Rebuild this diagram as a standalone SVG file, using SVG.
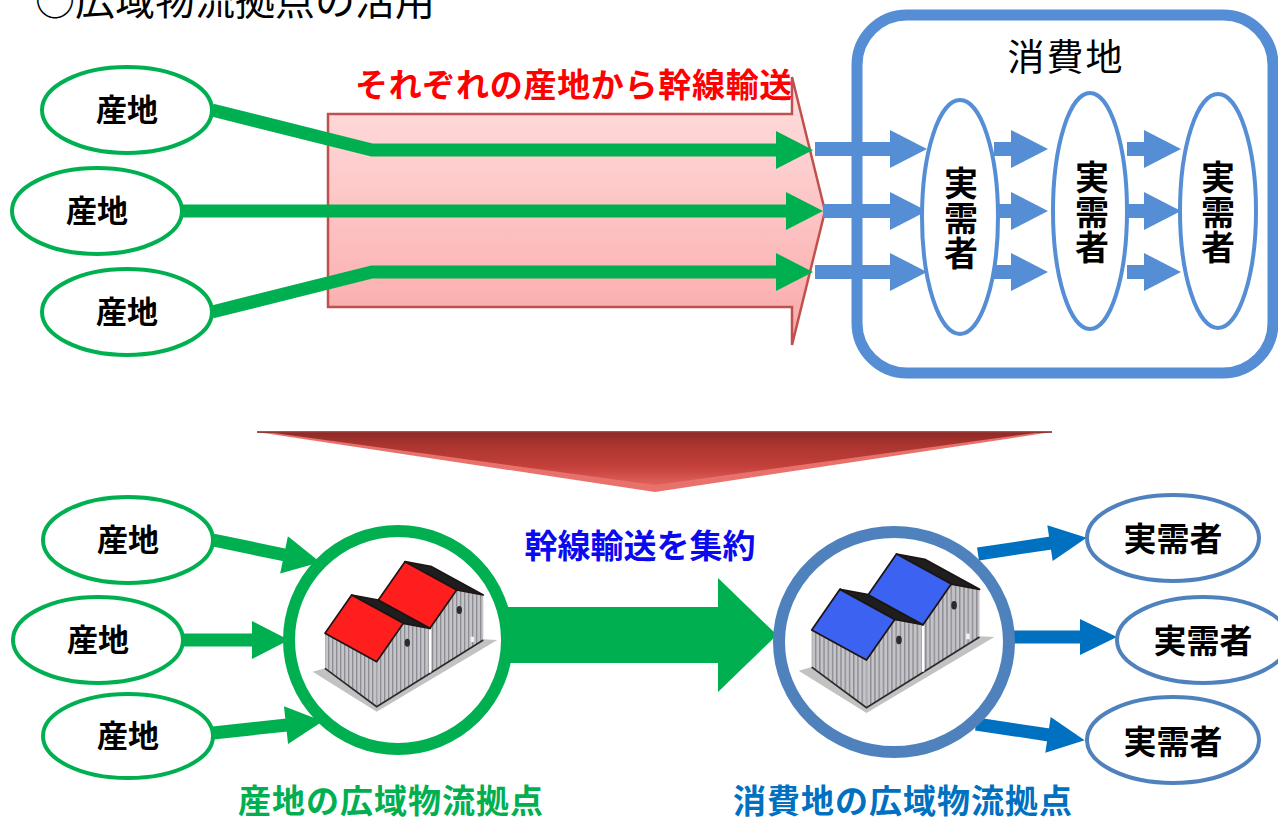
<svg xmlns="http://www.w3.org/2000/svg" width="1278" height="819" viewBox="0 0 1278 819">
  <defs>
    <style>
      text { font-family: "Noto Sans CJK JP", "Noto Sans CJK SC", sans-serif; }
      .lbl { font-weight: bold; font-size: 31px; fill: #000; text-anchor: middle; }
      .lblv { font-weight: bold; font-size: 34px; fill: #000; text-anchor: middle; writing-mode: vertical-rl; letter-spacing: 1px; }
      .lbl2 { font-weight: bold; font-size: 33px; fill: #000; text-anchor: middle; }
      .src { fill: #fff; stroke: #00B050; stroke-width: 4; }
      .dst { fill: #fff; stroke: #558ED5; stroke-width: 4; }
      .dst2 { fill: #fff; stroke: #4F81BD; stroke-width: 4; }
      .gl { fill: none; stroke: #00B050; stroke-width: 13; stroke-linejoin: miter; }
      .bl { fill: none; stroke: #558ED5; stroke-width: 14; }
      .bl2 { fill: none; stroke: #0070C0; stroke-width: 13; }
      .caption { font-weight: bold; font-size: 33px; text-anchor: middle; letter-spacing: 1px; }
    </style>

    <linearGradient id="pinkFill" x1="0" y1="0" x2="0" y2="1">
      <stop offset="0" stop-color="#FFE0E0"/>
      <stop offset="1" stop-color="#FBA8A8"/>
    </linearGradient>
    <linearGradient id="redDown" x1="0" y1="0" x2="0" y2="1">
      <stop offset="0" stop-color="#8E2A27"/>
      <stop offset="0.2" stop-color="#A9342F"/>
      <stop offset="0.65" stop-color="#C4403B"/>
      <stop offset="1" stop-color="#E0625D"/>
    </linearGradient>

    <pattern id="stripes" patternUnits="userSpaceOnUse" width="12" height="20">
      <rect width="12" height="20" fill="#C4C4C8"/>
      <rect width="4" height="20" fill="#8C8C92"/>
    </pattern>

    <marker id="hg" markerUnits="userSpaceOnUse" viewBox="0 0 38 38" markerWidth="38" markerHeight="38" refX="1" refY="19" orient="auto" overflow="visible">
      <path d="M0,0 L37,19 L0,38 Z" fill="#00B050"/>
    </marker>
    <marker id="hb" markerUnits="userSpaceOnUse" viewBox="0 0 38 38" markerWidth="38" markerHeight="38" refX="1" refY="19" orient="auto" overflow="visible">
      <path d="M0,0 L37,19 L0,38 Z" fill="#558ED5"/>
    </marker>
    <marker id="hb2" markerUnits="userSpaceOnUse" viewBox="0 0 38 38" markerWidth="38" markerHeight="38" refX="1" refY="19" orient="auto" overflow="visible">
      <path d="M0,1 L37,19 L0,37 Z" fill="#0070C0"/>
    </marker>

    <!-- sawtooth-roof warehouse; roof colour comes from currentColor -->
    <g id="depot">
      <polygon points="38,395 230,515 592,300 552,298 230,500 75,385" fill="#C2C2C2"/>
      <polygon points="75,280 75,385 230,500 230,365" fill="url(#stripes)"/>
      <polygon points="230,365 230,500 550,300 550,165 470,150 390,265 310,250" fill="url(#stripes)"/>
      <polyline points="75,385 230,500 550,300" fill="none" stroke="#2A2A2A" stroke-width="5"/>
      <line x1="390" y1="268" x2="390" y2="398" stroke="#FFFFFF" stroke-width="7"/>
      <ellipse cx="322" cy="308" rx="8" ry="12" fill="#2A2A30"/>
      <ellipse cx="478" cy="210" rx="8" ry="12" fill="#2A2A30"/>
      <rect x="512" y="290" width="10" height="16" fill="#F2F2F2"/>
      <g stroke="#1E1414" stroke-width="5" stroke-linejoin="round">
        <polygon points="155,165 235,180 390,265 310,250" fill="#1E1E1E"/>
        <polygon points="315,65 395,80 550,165 470,150" fill="#1E1E1E"/>
        <polygon points="75,280 155,165 310,250 230,365" fill="currentColor"/>
        <polygon points="235,180 315,65 470,150 390,265" fill="currentColor"/>
      </g>
    </g>
  </defs>

  <rect width="1278" height="819" fill="#FFFFFF"/>

  <!-- heading -->
  <text x="35" y="15" font-size="40" fill="#000">○広域物流拠点の活用</text>

  <!-- upper panel: direct trunk transport -->
  <path id="trunk-band" d="M328,114 H792 V77 L825,211 L792,345 V307 H328 Z" fill="url(#pinkFill)" stroke="#C0504D" stroke-width="2.5"/>
  <rect id="consumer-area" x="857" y="15" width="416" height="358" rx="50" ry="50" fill="#FFFFFF" stroke="#558ED5" stroke-width="11"/>
  <text x="1066" y="71" font-size="37" fill="#000" text-anchor="middle" letter-spacing="2">消費地</text>
  <text x="574" y="97" font-size="33" font-weight="bold" fill="#FF0000" text-anchor="middle" letter-spacing="0.7">それぞれの産地から幹線輸送</text>

  <!-- transition arrow -->
  <g id="down-arrow">
    <polygon points="257,432 1052,432 655,492" fill="#E8716C"/>
    <polygon points="274,433 1035,433 655,485" fill="url(#redDown)"/>
    <line x1="257" y1="432" x2="1052" y2="432" stroke="#7A2220" stroke-width="1.5"/>
  </g>

  <!-- connectors -->
  <g id="connectors">
    <path class="gl" d="M212,110 L372,150 L777,150" marker-end="url(#hg)"/>
    <path class="gl" d="M182,211 L787,211" marker-end="url(#hg)"/>
    <path class="gl" d="M212,312 L372,272 L777,272" marker-end="url(#hg)"/>

    <path class="bl" d="M815,149 L891,149" marker-end="url(#hb)"/>
    <path class="bl" d="M823,211 L891,211" marker-end="url(#hb)"/>
    <path class="bl" d="M815,272 L891,272" marker-end="url(#hb)"/>
    <path class="bl" d="M994,149 L1012,149" marker-end="url(#hb)"/>
    <path class="bl" d="M997,211 L1012,211" marker-end="url(#hb)"/>
    <path class="bl" d="M994,272 L1012,272" marker-end="url(#hb)"/>
    <path class="bl" d="M1127,149 L1145,149" marker-end="url(#hb)"/>
    <path class="bl" d="M1128,211 L1145,211" marker-end="url(#hb)"/>
    <path class="bl" d="M1127,272 L1145,272" marker-end="url(#hb)"/>

    <path class="gl" d="M213,540 L285,555" marker-end="url(#hg)"/>
    <path class="gl" d="M183,640 L253,640" marker-end="url(#hg)"/>
    <path class="gl" d="M213,733 L287,725" marker-end="url(#hg)"/>

    <polygon id="consolidated-trunk" points="505,607 718,607 718,578 777,635 718,692 718,663 505,663" fill="#00B050"/>

    <path class="bl2" d="M978,554 L1051,543" marker-end="url(#hb2)"/>
    <path class="bl2" d="M1012,637 L1081,637" marker-end="url(#hb2)"/>
    <path class="bl2" d="M976,724 L1049,735" marker-end="url(#hb2)"/>
  </g>

  <!-- upper producing areas -->
  <g id="src-top-1"><ellipse class="src" cx="127" cy="110" rx="85" ry="43"/><text class="lbl" x="127" y="121">産地</text></g>
  <g id="src-top-2"><ellipse class="src" cx="97" cy="211" rx="85" ry="43"/><text class="lbl" x="97" y="222">産地</text></g>
  <g id="src-top-3"><ellipse class="src" cx="127" cy="312" rx="85" ry="43"/><text class="lbl" x="127" y="323">産地</text></g>

  <!-- upper end users -->
  <g id="user-top-1">
    <ellipse class="dst" cx="960" cy="217" rx="38" ry="117"/>
    <text class="lblv" x="961" y="219">実需者</text>
  </g>
  <g id="user-top-2">
    <ellipse class="dst" cx="1090" cy="211" rx="37" ry="118"/>
    <text class="lblv" x="1092" y="213">実需者</text>
  </g>
  <g id="user-top-3">
    <ellipse class="dst" cx="1218" cy="211" rx="38" ry="117"/>
    <text class="lblv" x="1218" y="213">実需者</text>
  </g>

  <!-- lower producing areas -->
  <g id="src-bottom-1"><ellipse class="src" cx="128" cy="540" rx="85" ry="43"/><text class="lbl" x="128" y="551">産地</text></g>
  <g id="src-bottom-2"><ellipse class="src" cx="98" cy="640" rx="85" ry="43"/><text class="lbl" x="98" y="651">産地</text></g>
  <g id="src-bottom-3"><ellipse class="src" cx="128" cy="736" rx="85" ry="42"/><text class="lbl" x="128" y="747">産地</text></g>

  <!-- regional hubs -->
  <g id="hub-origin">
    <circle cx="398" cy="640" r="109" fill="#FFFFFF" stroke="#00B050" stroke-width="12"/>
    <use href="#depot" transform="translate(300 540) scale(0.3333)" color="#FF1E1E"/>
  </g>
  <g id="hub-consumer">
    <ellipse cx="894" cy="642" rx="115" ry="110" fill="#FFFFFF" stroke="#4F81BD" stroke-width="12"/>
    <use href="#depot" transform="translate(811.7 630) scale(0.3533) translate(-75 -280)" color="#3C62F2"/>
  </g>

  <text x="640" y="558" font-size="33" font-weight="bold" fill="#0A0AF0" text-anchor="middle">幹線輸送を集約</text>

  <!-- lower end users -->
  <g id="user-bottom-1"><ellipse class="dst2" cx="1173" cy="538" rx="86" ry="43"/><text class="lbl2" x="1173" y="551">実需者</text></g>
  <g id="user-bottom-2"><ellipse class="dst2" cx="1203" cy="640" rx="86" ry="43"/><text class="lbl2" x="1203" y="653">実需者</text></g>
  <g id="user-bottom-3"><ellipse class="dst2" cx="1173" cy="740" rx="86" ry="43"/><text class="lbl2" x="1173" y="754">実需者</text></g>

  <text class="caption" x="391" y="813" fill="#00B050">産地の広域物流拠点</text>
  <text class="caption" x="903" y="813" fill="#0070C0">消費地の広域物流拠点</text>
</svg>
